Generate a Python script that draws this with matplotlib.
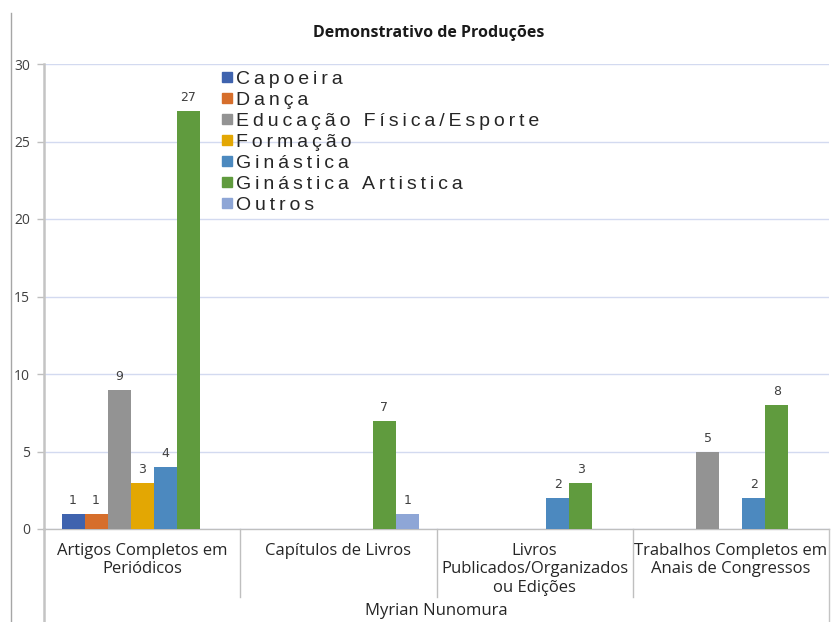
import matplotlib
matplotlib.use("Agg")
import matplotlib.pyplot as plt
from matplotlib.lines import Line2D
from matplotlib.transforms import blended_transform_factory

# categories (x axis), outer group label and series
categories = [
    "Artigos Completos em\nPeriódicos",
    "Capítulos de Livros",
    "Livros\nPublicados/Organizados\nou Edições",
    "Trabalhos Completos em\nAnais de Congressos",
]
group_label = "Myrian Nunomura"
series_names = [
    "Capoeira",
    "Dança",
    "Educação Física/Esporte",
    "Formação",
    "Ginástica",
    "Ginástica Artistica",
    "Outros",
]
capoeira = [1, 0, 0, 0]
danca = [1, 0, 0, 0]
educacao_fisica = [9, 0, 0, 5]
formacao = [3, 0, 0, 0]
ginastica = [4, 0, 2, 2]
ginastica_artistica = [27, 7, 3, 8]
outros = [0, 1, 0, 0]
series_values = [capoeira, danca, educacao_fisica, formacao, ginastica,
                 ginastica_artistica, outros]
colors = ["#3F63AE", "#D66E2B", "#939393", "#E3A703", "#4C89BF", "#609B3E", "#8EA6D6"]
y_ticks = [0, 5, 10, 15, 20, 25, 30]

W, H = 831, 622
fig = plt.figure(figsize=(W / 100, H / 100), dpi=100)
ax = fig.add_axes([44 / W, 1 - 529 / H, (829 - 44) / W, (529 - 64) / H])

label_font = "Open Sans"
bar_w = 23 / 196
n = len(series_names)
for i, (name, vals, col) in enumerate(zip(series_names, series_values, colors)):
    xs = [k + (i - (n - 1) / 2) * bar_w for k in range(len(categories)) if vals[k] > 0]
    hs = [v for v in vals if v > 0]
    ax.bar(xs, hs, width=bar_w, color=col, zorder=3)
    for x, h in zip(xs, hs):
        ax.annotate(str(h), (x, h), xytext=(0, 5), textcoords="offset points",
                    ha="center", va="bottom", fontsize=9, color="#404040",
                    family="DejaVu Sans")

ax.set_xlim(-0.5, len(categories) - 0.5)
ax.set_ylim(0, 30)
ax.set_yticks(y_ticks)
ax.set_yticklabels([str(t) for t in y_ticks], family=label_font, fontsize=10,
                   color="#404040")
ax.set_xticks([])
ax.tick_params(axis="y", length=5, width=1, color="#BFBFBF", pad=5)
ax.grid(axis="y", color="#D3DAF0", lw=1, zorder=0)
for s in ["top", "right", "bottom"]:
    ax.spines[s].set_visible(False)
ax.spines["left"].set_color("#C4C4C4")
ax.spines["left"].set_linewidth(1.8)

# multi-level category axis
tr = blended_transform_factory(ax.transData, fig.transFigure)
y_axis = 1 - 529 / H
y_sep = 1 - 597 / H
ax.add_line(Line2D([-0.5, len(categories) - 0.5], [y_axis, y_axis], transform=tr,
                   color="#BFBFBF", lw=1, clip_on=False))
for k in range(len(categories) + 1):
    x = k - 0.5
    outer = k in (0, len(categories))
    ax.add_line(Line2D([x, x], [y_axis, 0 if outer else y_sep], transform=tr,
                       color="#C4C4C4" if outer else "#BFBFBF",
                       lw=1.8 if k == 0 else 1, clip_on=False))
for k, cat in enumerate(categories):
    ax.text(k, 1 - 543 / H, cat, transform=tr, ha="center", va="top",
            family=label_font, fontsize=12, color="#262626", linespacing=1.2,
            multialignment="center")
ax.text((len(categories) - 1) / 2, 1 - 611 / H, group_label, transform=tr,
        ha="center", va="center", family=label_font, fontsize=12, color="#262626")

# outer chart border on the left
fig.add_artist(Line2D([11 / W, 11 / W], [0, 1 - 13 / H], transform=fig.transFigure,
                      color="#A6A6A6", lw=1))

fig.text(429 / W, 1 - 33 / H, "Demonstrativo de Produções", ha="center", va="center",
         family=label_font, fontsize=11.5, fontweight="bold", color="#1A1A1A")

# legend, with widened letter spacing like the original
handles = [Line2D([], [], marker="s", ls="none", markersize=7, color=c) for c in colors]
spaced = ["\u2009".join(name) for name in series_names]
ax.legend(handles, spaced, loc="upper left", bbox_to_anchor=(222 / W, 1 - 70 / H),
          bbox_transform=fig.transFigure, frameon=False, handlelength=0.5,
          handletextpad=0.2, labelspacing=0.175, borderpad=0, borderaxespad=0,
          prop={"family": ["Liberation Sans", "DejaVu Sans"], "size": 14},
          labelcolor="#262626")

fig.savefig("out.png", dpi=100)
